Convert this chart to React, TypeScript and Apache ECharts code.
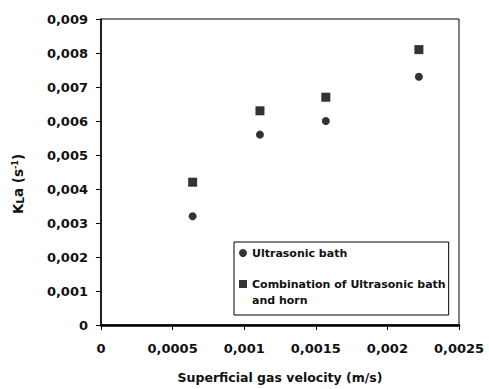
import React, { useEffect, useRef } from "react";
import * as echarts from "echarts";

// Superficial gas velocity (m/s)
const velocity = [0.00064, 0.00111, 0.00157, 0.00222];
// KLa (1/s) for each sonication mode
const bathValues = [0.0032, 0.0056, 0.006, 0.0073];
const comboValues = [0.0042, 0.0063, 0.0067, 0.0081];

const seriesNames = ["Ultrasonic bath", "Combination of Ultrasonic bath"];
const legendSecondLine = "and horn";

const xTickLabels = ["0", "0,0005", "0,001", "0,0015", "0,002", "0,0025"];
const yTickLabels = ["0", "0,001", "0,002", "0,003", "0,004", "0,005", "0,006", "0,007", "0,008", "0,009"];

const FONT = "DejaVu Sans";

export default function App() {
  const ref = useRef<HTMLDivElement>(null);

  useEffect(() => {
    if (!ref.current) return;
    const chart = echarts.init(ref.current, null, { renderer: "svg" });
    const labelStyle = { fontFamily: FONT, fontSize: 13, fontWeight: "bold" as const, color: "#111" };

    chart.setOption({
      animation: false,
      backgroundColor: "#fff",
      grid: {
        left: 101,
        right: 30,
        top: 19,
        bottom: 64,
        show: true,
        borderColor: "#000",
        borderWidth: 1,
        backgroundColor: "transparent",
      },
      xAxis: {
        type: "value",
        min: 0,
        max: 0.0025,
        interval: 0.0005,
        splitLine: { show: false },
        axisLine: { lineStyle: { color: "#000", width: 2.5 } },
        axisTick: { show: true, length: 5, lineStyle: { color: "#000", width: 1 } },
        axisLabel: {
          ...labelStyle,
          margin: 17,
          formatter: (v: number) => xTickLabels[Math.round(v / 0.0005)] ?? "",
        },
        name: "Superficial gas velocity (m/s)",
        nameLocation: "middle",
        nameGap: 46,
        nameTextStyle: { fontFamily: FONT, fontSize: 12.5, fontWeight: "bold", color: "#111" },
      },
      yAxis: {
        type: "value",
        min: 0,
        max: 0.009,
        interval: 0.001,
        splitLine: { show: false },
        axisLine: { show: true, lineStyle: { color: "#000", width: 1.5 } },
        axisTick: { show: true, length: 5, lineStyle: { color: "#000", width: 1 } },
        axisLabel: {
          ...labelStyle,
          margin: 13,
          formatter: (v: number) => yTickLabels[Math.round(v / 0.001)] ?? "",
        },
        name: "{a|K}{b|L}{a|a (s}{c|-1}{a|)}",
        nameLocation: "middle",
        nameGap: 76,
        nameTextStyle: {
          padding: [0, 24, 0, 0],
          rich: {
            a: { fontFamily: FONT, fontSize: 13.5, fontWeight: "bold", color: "#111" },
            b: { fontFamily: FONT, fontSize: 10.5, fontWeight: "bold", color: "#111", verticalAlign: "bottom" },
            c: { fontFamily: FONT, fontSize: 8, fontWeight: "bold", color: "#111", verticalAlign: "top" },
          },
        },
      },
      legend: {
        orient: "vertical",
        left: 234,
        top: 242,
        padding: [4, 3, 24, 5],
        itemGap: 17,
        itemWidth: 8,
        itemHeight: 8,
        borderColor: "#000",
        borderWidth: 1,
        backgroundColor: "#fff",
        textStyle: { fontFamily: FONT, fontSize: 11, fontWeight: "bold", color: "#111", lineHeight: 14 },
        data: [
          { name: seriesNames[0], icon: "circle" },
          { name: seriesNames[1], icon: "rect" },
        ],
      },
      graphic: [
        {
          type: "text",
          left: 252,
          top: 295,
          style: { text: legendSecondLine, fontFamily: FONT, fontSize: 11, fontWeight: "bold", fill: "#111" },
          z: 100,
        },
      ],
      series: [
        {
          name: seriesNames[0],
          type: "scatter",
          symbol: "circle",
          symbolSize: 8,
          itemStyle: { color: "#000" },
          data: velocity.map((x, i) => [x, bathValues[i]]),
        },
        {
          name: seriesNames[1],
          type: "scatter",
          symbol: "rect",
          symbolSize: 9,
          itemStyle: { color: "#000" },
          data: velocity.map((x, i) => [x, comboValues[i]]),
        },
      ],
    });

    return () => chart.dispose();
  }, []);

  return <div ref={ref} style={{ width: 489, height: 389, position: "absolute", left: 0, top: 0 }} />;
}
